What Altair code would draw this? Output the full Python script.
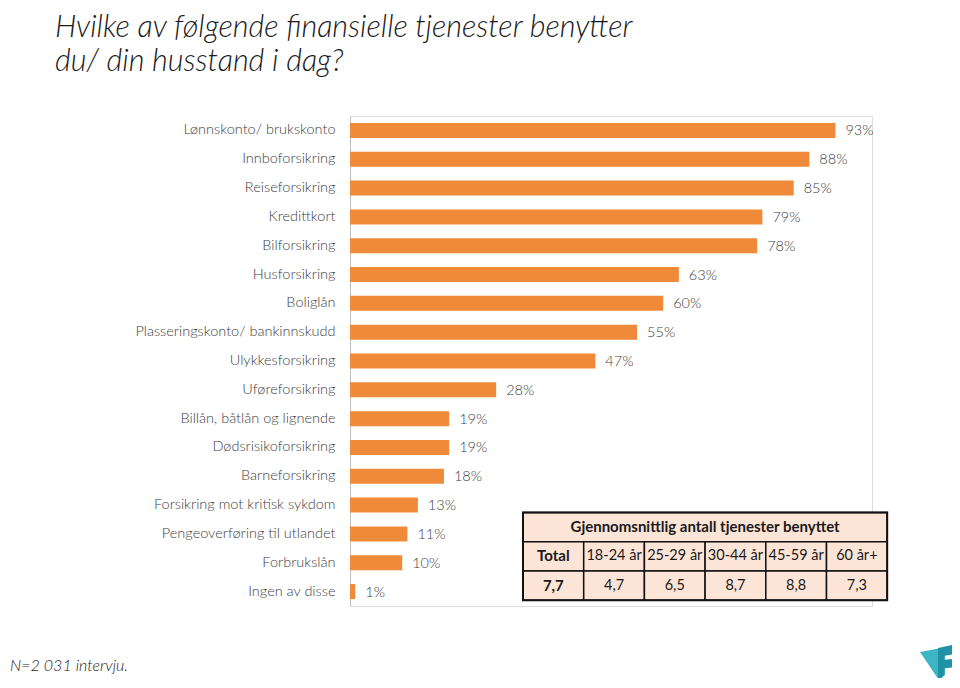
import altair as alt
import pandas as pd

categories = [
    "Lønnskonto/ brukskonto", "Innboforsikring", "Reiseforsikring", "Kredittkort",
    "Bilforsikring", "Husforsikring", "Boliglån", "Plasseringskonto/ bankinnskudd",
    "Ulykkesforsikring", "Uføreforsikring", "Billån, båtlån og lignende",
    "Dødsrisikoforsikring", "Barneforsikring", "Forsikring mot kritisk sykdom",
    "Pengeoverføring til utlandet", "Forbrukslån", "Ingen av disse",
]
values = [93, 88, 85, 79, 78, 63, 60, 55, 47, 28, 19, 19, 18, 13, 11, 10, 1]

title_lines = ["Hvilke av følgende finansielle tjenester benytter", "du/ din husstand i dag?"]
footnote = "N=2 031 intervju."
table_title = "Gjennomsnittlig antall tjenester benyttet"
table_headers = ["Total", "18-24 år", "25-29 år", "30-44 år", "45-59 år", "60 år+"]
table_values = ["7,7", "4,7", "6,5", "8,7", "8,8", "7,3"]

FONT = "Lato"
BAR = "#EF8A3A"
TXT = "#404040"
DARK = "#1a1a1a"

W, H = 522, 490
PAD_L, PAD_T = 342, 108
PAD_R = 944 - PAD_L - W
PAD_B = 72

df = pd.DataFrame({"cat": categories, "val": values,
                   "label": [f"{v}%" for v in values]})

y_enc = alt.Y("cat:N", sort=categories,
              scale=alt.Scale(paddingInner=0.48, paddingOuter=0.24),
              axis=alt.Axis(title=None, ticks=False, labelFontSize=14.5,
                            labelColor=TXT, labelFont=FONT, labelFontWeight=300,
                            labelPadding=15,
                            domainColor="#BFBFBF", domainWidth=1, labelLimit=320,
                            grid=False))
x_enc = alt.X("val:Q", scale=alt.Scale(domain=[0, 100]), axis=None)

bars = alt.Chart(df).mark_bar(color=BAR).encode(x=x_enc, y=y_enc)
labels = alt.Chart(df).mark_text(align="left", baseline="middle", dx=10, dy=1,
                                 fontSize=14.5, font=FONT, fontWeight=300,
                                 color=TXT).encode(
    x=x_enc, y=y_enc, text="label:N")

# ---- table layout (pixel positions in plot coordinates) ----
tx0, cw = 173.0, 60.7
ty0, rh = 396.4, 29.3
ncol = len(table_headers)
cells = [{"x": tx0, "x2": tx0 + cw * ncol, "y": ty0, "y2": ty0 + rh}]
for i in range(ncol):
    cells.append({"x": tx0 + i * cw, "x2": tx0 + (i + 1) * cw, "y": ty0 + rh, "y2": ty0 + 2 * rh})
    cells.append({"x": tx0 + i * cw, "x2": tx0 + (i + 1) * cw, "y": ty0 + 2 * rh, "y2": ty0 + 3 * rh})
cells_df = pd.DataFrame(cells)

def px(field):
    return alt.X(f"{field}:Q", scale=None, axis=None)

def py(field):
    return alt.Y(f"{field}:Q", scale=None, axis=None)

table_rects = alt.Chart(cells_df).mark_rect(fill="#FCE4D6", stroke="#111111",
                                            strokeWidth=1.5).encode(
    x=px("x"), x2=alt.X2("x2:Q"), y=py("y"), y2=alt.Y2("y2:Q"))
outer_df = pd.DataFrame([{"x": tx0, "x2": tx0 + cw * ncol, "y": ty0, "y2": ty0 + 3 * rh}])
table_outer = alt.Chart(outer_df).mark_rect(fill=None, stroke="#111111",
                                            strokeWidth=2).encode(
    x=px("x"), x2=alt.X2("x2:Q"), y=py("y"), y2=alt.Y2("y2:Q"))

texts = [{"t": table_title, "x": tx0 + cw * ncol / 2, "y": ty0 + rh / 2, "b": 1}]
for i in range(ncol):
    texts.append({"t": table_headers[i], "x": tx0 + (i + 0.5) * cw, "y": ty0 + 1.5 * rh, "b": 1 if i == 0 else 0})
    texts.append({"t": table_values[i], "x": tx0 + (i + 0.5) * cw, "y": ty0 + 2.5 * rh, "b": 1 if i == 0 else 0})
texts_df = pd.DataFrame(texts)

table_bold = alt.Chart(texts_df).transform_filter("datum.b == 1").mark_text(
    fontSize=15, font=FONT, fontWeight="bold", color=DARK, baseline="middle").encode(
    x=px("x"), y=py("y"), text="t:N")
table_reg = alt.Chart(texts_df).transform_filter("datum.b == 0").mark_text(
    fontSize=14.5, font=FONT, color=DARK, baseline="middle").encode(
    x=px("x"), y=py("y"), text="t:N")

one = alt.Data(values=[{}])

title_marks = [
    alt.Chart(one).mark_text(text=line, align="left", baseline="middle",
                             fontSize=30.5, font=FONT, fontStyle="italic",
                             fontWeight=300, color=DARK).encode(
        x=alt.value(55 - 350), y=alt.value(yy - 116.6))
    for line, yy in zip(title_lines, [29, 63])
]

foot = alt.Chart(one).mark_text(text=footnote, align="left", baseline="middle",
                                fontSize=16, font=FONT, fontStyle="italic",
                                fontWeight=300, color=DARK).encode(
    x=alt.value(10 - 350), y=alt.value(667 - 116.6))

logo_light = alt.Chart(one).mark_point(
    shape="M -1 -0.55 L 0.05 -0.75 L 0.05 1 Z",
    filled=True, color="#3DB5C6", opacity=1, strokeWidth=0, size=1296).encode(
    x=alt.value(588), y=alt.value(546))
logo_dark = alt.Chart(one).mark_point(
    shape="M 0 -0.78 L 1 -1 L 1 -0.45 L 0.38 -0.35 L 0.38 -0.12 L 0.8 -0.17 L 0.8 0.3 L 0.38 0.35 L 0.38 0.72 L 0.05 1 L 0 0.9 Z",
    filled=True, color="#1E93A6", opacity=1, strokeWidth=0, size=1296).encode(
    x=alt.value(588), y=alt.value(546))

chart = alt.layer(
    bars, labels, table_rects, table_outer, table_bold, table_reg, foot,
    logo_light, logo_dark, *title_marks
).properties(
    width=W, height=H,
    autosize=alt.AutoSizeParams(type="none"),
    padding={"left": PAD_L, "top": PAD_T, "right": PAD_R, "bottom": PAD_B},
).configure_view(stroke=None).configure(background="white")

chart.save("out.html", embed_options={"renderer": "svg", "actions": False})
